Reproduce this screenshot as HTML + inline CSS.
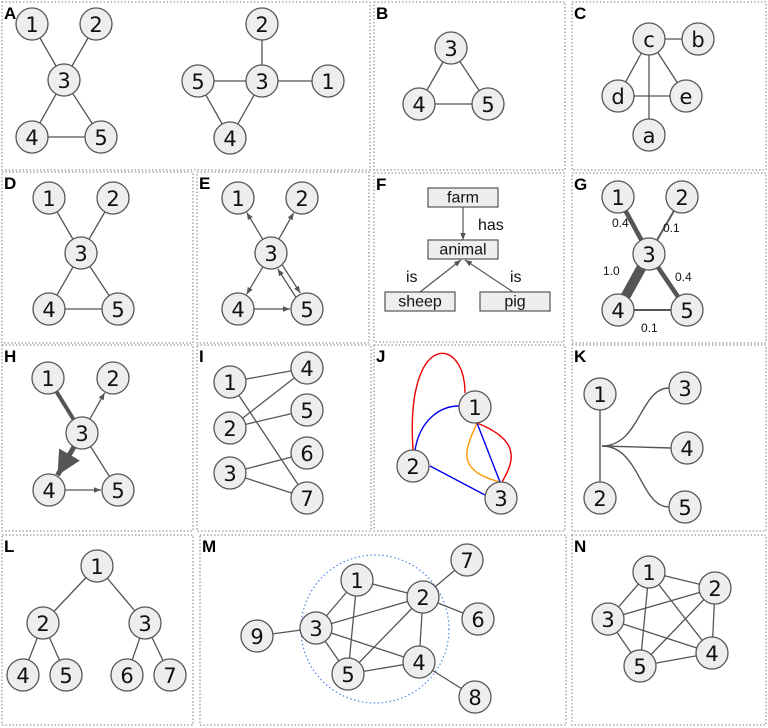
<!DOCTYPE html>
<html><head><meta charset="utf-8">
<style>
html,body{margin:0;padding:0;background:#fff;}
svg{display:block;}
.nl{font-family:"DejaVu Sans","Liberation Sans",sans-serif;font-size:21px;fill:#111;text-anchor:middle;dominant-baseline:central;}
.pl{font-family:"Liberation Sans",sans-serif;font-size:17px;font-weight:bold;fill:#000;}
.sm{font-family:"Liberation Sans",sans-serif;font-size:12px;fill:#111;}
.bx{font-family:"Liberation Sans",sans-serif;font-size:16px;fill:#111;text-anchor:middle;dominant-baseline:central;}
</style></head>
<body>
<svg id="fig" width="768" height="728" viewBox="0 0 768 728" xmlns="http://www.w3.org/2000/svg">
<defs>
<marker id="ar" viewBox="0 0 10 10" refX="10" refY="5" markerWidth="7" markerHeight="7" markerUnits="userSpaceOnUse" orient="auto"><path d="M0,1 L10,5 L0,9 z" fill="#555"/></marker>
<marker id="arBig" viewBox="0 0 10 10" refX="10" refY="5" markerWidth="24" markerHeight="24" markerUnits="userSpaceOnUse" orient="auto"><path d="M0,0 L10,5 L0,10 z" fill="#555"/></marker>
</defs>
</svg>
<script>
const panelNames = ["A","B","C","D","E","F","G","H","I","J","K","L","M","N"];
const panelBoxes = [[2,2,368,168],[374,2,191,168],[572,2,194,168],[2,172,191,171],[197,172,172,171],[374,173,190,169],[572,173,194,170],[2,345,191,186],[197,345,174,186],[374,345,191,186],[572,345,194,186],[2,535,191,190],[200,535,366,190],[572,535,194,190]];
const svg=document.getElementById('fig');
const NS="http://www.w3.org/2000/svg";
function mk(t,a){const e=document.createElementNS(NS,t);for(const k in a)e.setAttribute(k,a[k]);svg.appendChild(e);return e;}
panelBoxes.forEach((b,i)=>{
  const r=mk('rect',{x:b[0],y:b[1],width:b[2],height:b[3],fill:'none',stroke:'#999','stroke-width':1.3,'stroke-dasharray':'1.5 2'});
  
  
  const t=mk('text',{x:b[0]+2,y:b[1]+17,class:'pl'});t.textContent=panelNames[i];
  
  
});
const R=16;
function edge(p,q,opt){opt=opt||{};
  let x1=p[0],y1=p[1],x2=q[0],y2=q[1];
  if(opt.arrow||opt.trim){const dx=x2-x1,dy=y2-y1,L=Math.hypot(dx,dy);x1+=dx/L*R;y1+=dy/L*R;x2-=dx/L*(R+1);y2-=dy/L*(R+1);}
  if(opt.off){const dx=x2-x1,dy=y2-y1,L=Math.hypot(dx,dy);const ox=-dy/L*opt.off,oy=dx/L*opt.off;x1+=ox;x2+=ox;y1+=oy;y2+=oy;}
  const a={x1,y1,x2,y2,stroke:opt.color||'#555','stroke-width':opt.w||1.3};
  if(opt.arrow)a['marker-end']='url(#'+opt.arrow+')';
  const e=mk('line',a);
  
  
  return e;}
function node(p,label){
  const c=mk('circle',{cx:p[0],cy:p[1],r:R,fill:'#eee',stroke:'#555','stroke-width':1.3});
  
  
  const t=mk('text',{x:p[0],y:p[1]+1,class:'nl'});t.textContent=label;
  
  }
function graph(nodes,edges,opts){opts=opts||[];
  edges.forEach((e,i)=>edge(nodes[e[0]],nodes[e[1]],opts[i]));
  for(const k in nodes)node(nodes[k],k);}
// A
graph({1:[32,24],2:[96,24],3:[64,80],4:[32,137],5:[101,137]},[[1,3],[2,3],[3,4],[3,5],[4,5]]);
graph({2:[262,24],5:[198,81],3:[262,81],1:[328,81],4:[230,138]},[[2,3],[5,3],[3,1],[5,4],[3,4]]);
// B
graph({3:[451,48],4:[419,104],5:[488,104]},[[3,4],[3,5],[4,5]]);
// C
graph({c:[649,39],b:[698,39],d:[618,96],e:[686,96],a:[649,135]},[['c','b'],['c','d'],['c','e'],['c','a'],['d','e']]);
// D
graph({1:[49,198],2:[113,198],3:[81,253],4:[49,309],5:[118,309]},[[1,3],[2,3],[3,4],[3,5],[4,5]]);
// E
graph({1:[238,198],2:[302,198],3:[271,253],4:[238,309],5:[307,309]},[[3,1],[3,2],[3,4],[3,5],[5,3],[4,5]],
 [{arrow:'ar'},{arrow:'ar'},{arrow:'ar'},{arrow:'ar',off:-3},{arrow:'ar',off:-3},{arrow:'ar'}]);
// F
const fBoxes=[["farm",428,188],["animal",428,240],["sheep",385,292],["pig",480,292]];
fBoxes.forEach(b=>{const r=mk('rect',{x:b[1],y:b[2],width:70,height:19,fill:'#eee',stroke:'#555','stroke-width':1.2});
 
 
 const t=mk('text',{x:b[1]+35,y:b[2]+10,class:'bx'});t.textContent=b[0];
 
 });
[[463,207,463,240],[420,292,461,260],[513,292,465,260]].forEach(l=>{const e=mk('line',{x1:l[0],y1:l[1],x2:l[2],y2:l[3],stroke:'#555','stroke-width':1.2,'marker-end':'url(#ar)'});
 
 });
[["has",478,230],["is",406,282],["is",510,282]].forEach(l=>{const t=mk('text',{x:l[1],y:l[2],class:'sm'});t.style.fontSize='16px';t.textContent=l[0];
 
 });
// G
const gWeights=[0.4,0.1,1.0,0.4,0.1];
graph({1:[618,197],2:[682,197],3:[649,254],4:[618,310],5:[687,310]},[[1,3],[2,3],[3,4],[3,5],[4,5]],gWeights.map(w=>({w:1+w*9,color:'#555'})));
[["0.4",612,227],["0.1",663,232],["1.0",603,275],["0.4",675,281],["0.1",641,332]].forEach(l=>{const t=mk('text',{x:l[1],y:l[2],class:'sm'});t.textContent=l[0];
 
 });
// H
graph({1:[48,378],2:[113,378],3:[82,433],4:[49,490],5:[118,490]},[[1,3],[3,2],[3,4],[3,5],[4,5]],
 [{w:4},{arrow:'ar'},{w:5,arrow:'arBig',trim:1},{},{arrow:'ar'}]);
// I
graph({1:[230,382],2:[230,428],3:[230,473],4:[307,368],5:[307,410],6:[307,453],7:[307,498]},[[1,4],[1,7],[2,4],[2,5],[3,6],[3,7]]);
// J
const jPaths=[["M413,450 C405,330 465,335 465,393","#e00"],["M415,450 C420,420 440,406 459,406","#00e"],["M477,423 C465,450 455,470 500,482","#f90"],["M477,423 L500,482","#00e"],["M477,423 C520,440 515,460 502,482","#e00"],["M430,466 L485,495","#00e"]];
jPaths.forEach(p=>{const e=mk('path',{d:p[0],fill:'none',stroke:p[1],'stroke-width':1.4});
 
 });
node([475,407],'1');node([413,466],'2');node([501,498],'3');
// K
const kh=[['M600,394 L600,498','k-edge'],['M602,446 C640,446 640,388 669,388','k-edge'],['M602,446 L671,448','k-edge'],['M602,446 C640,446 640,507 669,507','k-edge']];
kh.forEach(p=>{const e=mk('path',{d:p[0],fill:'none',stroke:'#555','stroke-width':1.4});
 
 });
node([600,394],'1');node([600,498],'2');node([685,388],'3');node([687,448],'4');node([685,507],'5');
// L
graph({1:[97,566],2:[43,623],3:[145,623],4:[23,675],5:[66,675],6:[127,675],7:[170,675]},[[1,2],[1,3],[2,4],[2,5],[3,6],[3,7]]);
// M
const ring=mk('circle',{cx:375,cy:629,r:74,fill:'none',stroke:'#4a86e8','stroke-width':1.2,'stroke-dasharray':'1.5 2.5'});


graph({1:[357,580],2:[423,597],3:[316,628],4:[419,662],5:[348,674],6:[478,619],7:[467,560],8:[475,697],9:[257,636]},
 [[1,2],[1,3],[1,5],[2,3],[2,5],[2,4],[3,4],[3,5],[5,4],[3,9],[2,7],[2,6],[4,8]]);
// N
graph({1:[649,572],2:[715,588],3:[608,619],4:[712,653],5:[640,666]},[[1,2],[1,3],[1,4],[1,5],[2,3],[2,4],[2,5],[3,4],[3,5],[4,5]]);
</script>
</body></html>
